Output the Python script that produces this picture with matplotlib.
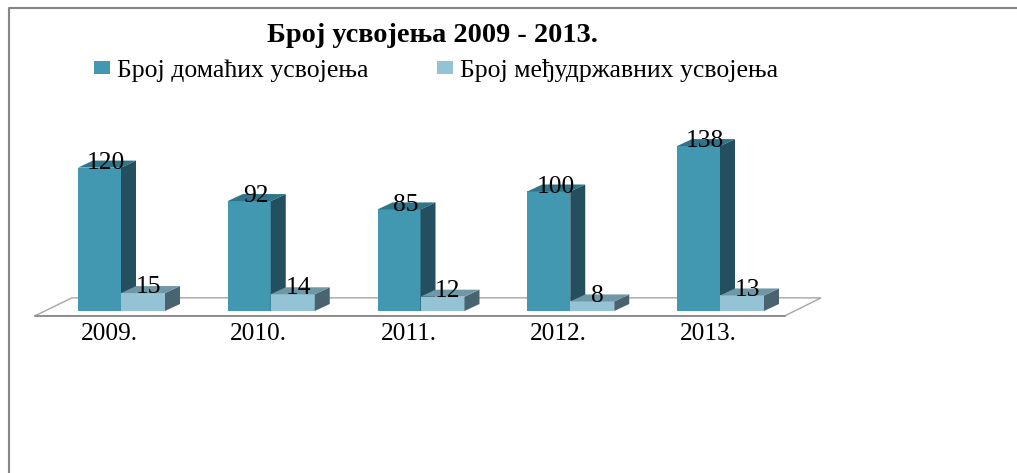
import matplotlib
matplotlib.use('Agg')
import matplotlib.pyplot as plt
from matplotlib.patches import Polygon, Patch

years = ['2009.', '2010.', '2011.', '2012.', '2013.']
domestic = [120, 92, 85, 100, 138]
intercountry = [15, 14, 12, 8, 13]

title = 'Број усвојења 2009 - 2013.'
name_domestic = 'Број домаћих усвојења'
name_inter = 'Број међудржавних усвојења'

plt.rcParams['font.family'] = ['Liberation Serif', 'DejaVu Serif']

W, H = 1017, 473
step = 149.75  # pixels per category
unit = 1.195   # pixels per adoption
base_x, base_y = 121, 311

fig = plt.figure(figsize=(W / 100, H / 100), dpi=100)
ax = fig.add_axes([0, 0, 1, 1])
ax.set_xlim(-base_x / step, (W - base_x) / step)
ax.set_ylim((base_y - H) / unit, base_y / unit)
ax.axis('off')

bar_w = 43 / step
dx = 15 / step
dy = 7 / unit


def bar3d(x0, x1, h, front, side, top, z):
    ax.add_patch(Polygon([(x0, 0), (x1, 0), (x1, h), (x0, h)], fc=front, ec='none', zorder=z))
    ax.add_patch(Polygon([(x1, 0), (x1 + dx, dy), (x1 + dx, h + dy), (x1, h)], fc=side, ec='none', zorder=z))
    ax.add_patch(Polygon([(x0, h), (x1, h), (x1 + dx, h + dy), (x0 + dx, h + dy)], fc=top, ec='none', zorder=z))


# floor
fl = -base_x / step + 35 / step
fr = 4 + (785 - base_x - 4 * step) / step
ax.add_patch(Polygon([(fl, -4), (fr, -4), (fr + 36 / step, 11), (fl + 37 / step, 11)],
                     closed=True, fc='white', ec='#a6a6a6', lw=1, zorder=1))
ax.plot([fl, fr], [-4, -4], color='#868686', lw=1.2, zorder=1)

for i in range(len(years)):
    bar3d(i - bar_w, i, domestic[i], '#4298b1', '#234f5e', '#2f7488', 2)
    bar3d(i, i + bar_w + 1 / step, intercountry[i], '#93c3d5', '#4a6370', '#6f97a6', 3)
    ax.text(i - bar_w / 2 + dx / 2 - 0.005, domestic[i] + dy / 2 + 1, str(domestic[i]),
            ha='center', va='center', fontsize=18.4, color='black', zorder=5)
    ax.text(i + bar_w / 2 + dx / 2 - 0.01, intercountry[i] + dy / 2 + 2, str(intercountry[i]),
            ha='center', va='center', fontsize=18.4, color='black', zorder=5)
    ax.text(i - 12 / step, -19, years[i], ha='center', va='center', fontsize=18.2, color='black')

# chart frame, only left and top show in the crop
ax.plot([9 / step - base_x / step] * 2 + [(W - base_x) / step],
        [(base_y - H) / unit, (base_y - 8.5) / unit, (base_y - 8.5) / unit],
        color='#868686', lw=1.5, zorder=6)

fig.text(432 / W, 1 - 36 / H, title, ha='center', va='center', fontsize=20.4, fontweight='bold')

handles = [Patch(fc='#4298b1', ec='none', label=name_domestic),
           Patch(fc='#93c3d5', ec='none', label=name_inter)]
fig.legend(handles=handles, ncol=2, frameon=False, fontsize=18.5,
           loc='center left', bbox_to_anchor=(94 / W, 1 - 70 / H),
           handlelength=0.62, handleheight=0.4, handletextpad=0.28, columnspacing=2.65,
           borderpad=0, borderaxespad=0)

fig.savefig('out.png', dpi=100)
